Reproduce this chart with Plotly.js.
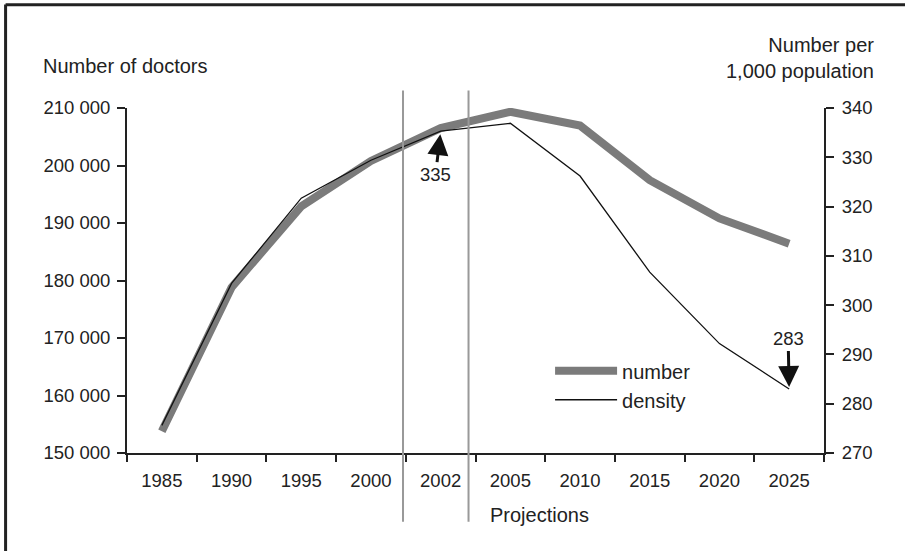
<!DOCTYPE html>
<html>
<head>
<meta charset="utf-8">
<script src="https://cdn.plot.ly/plotly-3.0.1.min.js"></script>
<style>html,body{margin:0;padding:0;background:#fff;}#chart{width:905px;height:551px;}</style>
</head>
<body>
<div id="chart"></div>
<script>
// ---- data ----
var years = ['1985','1990','1995','2000','2002','2005','2010','2015','2020','2025'];
var doctorsNumber = [153800, 178800, 192900, 200800, 206500, 209350, 206950, 197450, 190800, 186400];
var doctorsDensity = [275.6, 304.4, 321.7, 329.4, 335.3, 336.9, 326.2, 306.7, 292.2, 283];
var leftTickVals = [150000, 160000, 170000, 180000, 190000, 200000, 210000];
var leftTickText = ['150 000', '160 000', '170 000', '180 000', '190 000', '200 000', '210 000'];
var rightTickVals = [270, 280, 290, 300, 310, 320, 330, 340];
var seriesNames = ['number', 'density'];
var labelDensityStart = '335';
var labelDensityEnd = '283';

var FONT = 'Liberation Sans, Arial, sans-serif';
var INK = '#222';

var boundaries = [];
for (var i = 0; i <= years.length; i++) boundaries.push(i - 0.5);
var idx2002 = years.indexOf('2002');
var idx2025 = years.indexOf('2025');

var traces = [
  {x: years, y: doctorsNumber, name: seriesNames[0], type: 'scatter', mode: 'lines',
   line: {color: '#7b7b7b', width: 8}, yaxis: 'y', hoverinfo: 'skip'},
  {x: years, y: doctorsDensity, name: seriesNames[1], type: 'scatter', mode: 'lines',
   line: {color: '#111', width: 1.3}, yaxis: 'y2', hoverinfo: 'skip'}
];

var axCommon = {showgrid: false, zeroline: false, fixedrange: true};

var layout = {
  width: 905, height: 551,
  margin: {l: 127, r: 81, t: 108, b: 98, pad: 0},
  paper_bgcolor: '#fff', plot_bgcolor: '#fff',
  font: {family: FONT, color: INK, size: 18.5},
  showlegend: true,
  legend: {x: 0.607, y: 0.295, xanchor: 'left', yanchor: 'top', bgcolor: 'rgba(0,0,0,0)',
           font: {family: FONT, size: 20, color: INK}, itemwidth: 62},
  xaxis: Object.assign({}, axCommon, {type: 'category', categoryorder: 'array', categoryarray: years,
    range: [-0.5, years.length - 0.5], tickson: 'boundaries', ticks: 'outside', ticklen: 7, tickwidth: 2,
    tickcolor: INK, showline: true, linewidth: 2, linecolor: INK, ticklabelstandoff: 10,
    tickfont: {family: FONT, size: 18.5, color: INK}}),
  xaxis3: Object.assign({}, axCommon, {overlaying: 'x', anchor: 'y', type: 'linear',
    range: [-0.5, years.length - 0.5], tickmode: 'array', tickvals: boundaries, ticks: 'inside',
    ticklen: 7, tickwidth: 2, tickcolor: INK, showticklabels: false, showline: false}),
  yaxis: Object.assign({}, axCommon, {range: [150000, 210000], tickmode: 'array', tickvals: leftTickVals,
    ticktext: leftTickText, ticks: 'outside', ticklen: 8, tickwidth: 2, tickcolor: INK, ticklabelstandoff: 3,
    showline: true, linewidth: 2, linecolor: INK, tickfont: {family: FONT, size: 18.5, color: INK}}),
  yaxis3: Object.assign({}, axCommon, {overlaying: 'y', anchor: 'x', side: 'left', range: [150000, 210000],
    tickmode: 'array', tickvals: leftTickVals, ticks: 'inside', ticklen: 8, tickwidth: 2, tickcolor: INK,
    showticklabels: false, showline: false}),
  yaxis2: Object.assign({}, axCommon, {overlaying: 'y', anchor: 'x', side: 'right', range: [270, 340],
    tickmode: 'array', tickvals: rightTickVals, ticks: 'outside', ticklen: 8, tickwidth: 2, tickcolor: INK,
    ticklabelstandoff: 4,
    showline: true, linewidth: 2, linecolor: INK, tickfont: {family: FONT, size: 18.5, color: INK}}),
  yaxis4: Object.assign({}, axCommon, {overlaying: 'y', anchor: 'x', side: 'right', range: [270, 340],
    tickmode: 'array', tickvals: rightTickVals, ticks: 'inside', ticklen: 8, tickwidth: 2, tickcolor: INK,
    showticklabels: false, showline: false}),
  shapes: [
    {type: 'line', xref: 'x', yref: 'paper', x0: 3.46, x1: 3.46, y0: -0.199, y1: 1.0505,
     line: {color: '#999', width: 2}},
    {type: 'line', xref: 'x', yref: 'paper', x0: 4.40, x1: 4.40, y0: -0.199, y1: 1.0505,
     line: {color: '#999', width: 2}},
    {type: 'line', xref: 'paper', yref: 'paper', x0: -0.1742, x1: -0.1742, y0: -0.35, y1: 1.30,
     line: {color: INK, width: 3}},
    {type: 'line', xref: 'paper', yref: 'paper', x0: -0.1742, x1: 1.2, y0: 1.299, y1: 1.299,
     line: {color: INK, width: 3}}
  ],
  annotations: [
    {x: idx2002, y: doctorsDensity[idx2002], xref: 'x', yref: 'y2', text: labelDensityStart,
     showarrow: true, ax: -5, ay: 43, arrowhead: 2, arrowsize: 1.4, arrowwidth: 3, arrowcolor: '#111',
     standoff: 3, font: {family: FONT, size: 18.5, color: INK}},
    {x: idx2025, y: doctorsDensity[idx2025], xref: 'x', yref: 'y2', text: labelDensityEnd,
     showarrow: true, ax: -1, ay: -50, arrowhead: 2, arrowsize: 1.4, arrowwidth: 3, arrowcolor: '#111',
     standoff: 2, font: {family: FONT, size: 18.5, color: INK}},
    {x: 0.592, y: -0.1785, xref: 'paper', yref: 'paper', text: 'Projections', showarrow: false,
     xanchor: 'center', yanchor: 'middle', font: {family: FONT, size: 20, color: INK}},
    {x: -0.1227, y: 1.122, xref: 'paper', yref: 'paper', text: 'Number of doctors', showarrow: false,
     xanchor: 'left', yanchor: 'middle', font: {family: FONT, size: 20, color: INK}},
    {x: 1.0746, y: 1.1437, xref: 'paper', yref: 'paper', text: 'Number per<br>1,000 population',
     showarrow: false, xanchor: 'right', yanchor: 'middle', align: 'right',
     font: {family: FONT, size: 20, color: INK}}
  ]
};

Plotly.newPlot('chart', traces, layout, {displayModeBar: false, staticPlot: true});
</script>
</body>
</html>
